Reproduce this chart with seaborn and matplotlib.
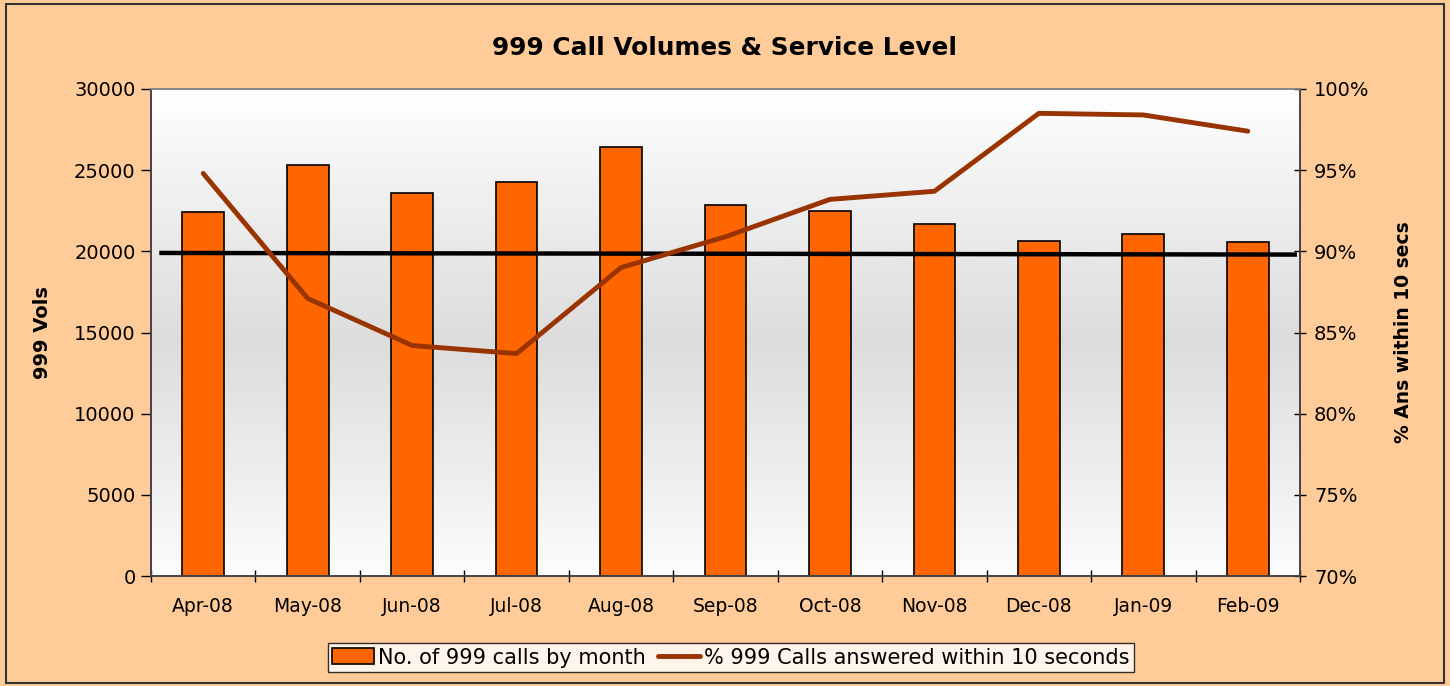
import numpy as np
import pandas as pd
import matplotlib
matplotlib.use("Agg")
import matplotlib.pyplot as plt
from matplotlib.patches import Rectangle
from matplotlib.lines import Line2D
from matplotlib.ticker import FuncFormatter, MultipleLocator
import seaborn as sns

# Monthly figures
months = ["Apr-08", "May-08", "Jun-08", "Jul-08", "Aug-08", "Sep-08",
          "Oct-08", "Nov-08", "Dec-08", "Jan-09", "Feb-09"]
call_volumes = [22400, 25300, 23600, 24300, 26400, 22850,
                22500, 21700, 20650, 21050, 20600]
pct_within_10s = [94.8, 87.1, 84.2, 83.7, 89.0, 90.9,
                  93.2, 93.7, 98.5, 98.4, 97.4]
# Service-level target line (start, end) on the percentage axis
target_pct = [89.9, 89.8]

bar_label = "No. of 999 calls by month"
line_label = "% 999 Calls answered within 10 seconds"

sns.set_style("white")
plt.rcParams["font.family"] = ["DejaVu Sans"]
plt.rcParams.update({
    "text.color": "black",
    "axes.labelcolor": "black",
    "xtick.color": "black",
    "ytick.color": "black",
})

BG = "#FFCC99"
BAR = "#FF6600"
LINE = "#993300"

df = pd.DataFrame({"month": months, "calls": call_volumes, "pct": pct_within_10s})

fig = plt.figure(figsize=(14.5, 6.86), dpi=100, facecolor=BG)
ax = fig.add_axes([0.1041, 0.1603, 0.7925, 0.7100])

# Vertical white-grey-white gradient behind the plot area
t = np.linspace(0, 1, 256)
shade = 1.0 - 0.135 * np.clip(1.0 - np.abs(t - 0.52) / 0.5, 0, 1) ** 0.9
grad = np.dstack([shade, shade, shade])[0][:, None, :]
ax.imshow(grad, extent=[0, 1, 0, 1], transform=ax.transAxes, aspect="auto",
          zorder=0, interpolation="bicubic")

sns.barplot(data=df, x="month", y="calls", color=BAR, edgecolor="black",
            linewidth=1.2, width=0.4, saturation=1, ax=ax, zorder=2)
ax.set_xlim(-0.5, len(months) - 0.5)
ax.set_ylim(0, 30000)
ax.yaxis.set_major_locator(MultipleLocator(5000))
ax.set_xlabel("")
ax.set_ylabel("999 Vols", fontsize=14, fontweight="bold", labelpad=16)
ax.tick_params(axis="y", labelsize=14, length=7, width=1, direction="out", pad=4, left=True)
ax.tick_params(axis="x", labelsize=13.5, length=0, pad=15)
ax.set_xticks(np.arange(-0.5, len(months), 1), minor=True)
ax.tick_params(axis="x", which="minor", length=8, width=1, direction="inout", bottom=True)

ax2 = ax.twinx()
sns.lineplot(x=np.arange(len(months)), y=pct_within_10s, color=LINE,
             linewidth=3.5, ax=ax2, zorder=4)
ax2.plot([-0.42, len(months) - 0.53], target_pct, color="black",
         linewidth=3.2, zorder=3, solid_capstyle="butt")
ax2.set_ylim(70, 100)
ax2.yaxis.set_major_locator(MultipleLocator(5))
ax2.yaxis.set_major_formatter(FuncFormatter(lambda v, p: f"{v:.0f}%"))
ax2.set_ylabel("% Ans within 10 secs", fontsize=13.5, fontweight="bold", labelpad=18)
ax2.tick_params(axis="y", labelsize=14, length=8, width=1, direction="inout", pad=6, right=True)

for a in (ax, ax2):
    for side, sp in a.spines.items():
        sp.set_linewidth(1.2)
        sp.set_color("#444444")
    a.spines["top"].set_color("#888888")

fig.suptitle("999 Call Volumes & Service Level", fontsize=17.8, fontweight="bold",
             y=0.948)

handles = [Rectangle((0, 0), 1, 1, facecolor=BAR, edgecolor="black", linewidth=1.2),
           Line2D([0], [0], color=LINE, linewidth=3.5)]
leg = fig.legend(handles, [bar_label, line_label], loc="center",
                 bbox_to_anchor=(0.504, 0.0415), ncol=2, frameon=True,
                 fontsize=15, fancybox=False, handlelength=2.0, handletextpad=0.2,
                 columnspacing=0.6, borderpad=0.2, handleheight=0.8, borderaxespad=0)
leg.get_frame().set_edgecolor("black")
leg.get_frame().set_linewidth(1.0)
leg.get_frame().set_facecolor("white")

fig.patches.append(Rectangle((0.004, 0.004), 0.992, 0.99, transform=fig.transFigure,
                             fill=False, edgecolor="#333333", linewidth=1.5))

fig.savefig("out.png", dpi=100, facecolor=BG)
